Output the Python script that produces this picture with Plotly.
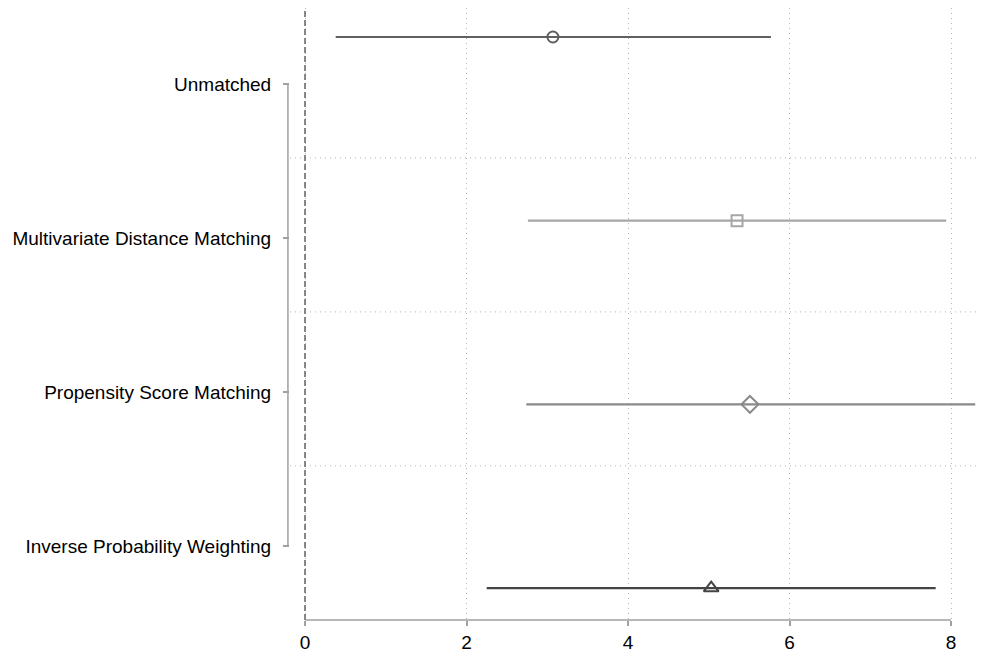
import plotly.graph_objects as go

# Estimates with 95% confidence intervals, one per estimator
methods = ["Unmatched", "Multivariate Distance Matching",
           "Propensity Score Matching", "Inverse Probability Weighting"]
estimate = [3.07, 5.35, 5.51, 5.03]
ci_low = [0.38, 2.76, 2.74, 2.25]
ci_high = [5.77, 7.94, 8.30, 7.81]

# Row positions of the markers and of the category labels
mark_pos = [1, 2, 3, 4]
label_pos = [1, 2, 3, 4]
separator_pos = [1.48, 2.48, 3.48]
x_ticks = [0, 2, 4, 6, 8]

colors = ["#606060", "#a6a6a6", "#8a8a8a", "#444444"]
symbols = ["circle-open", "square-open", "diamond-open", "triangle-up-open"]
sizes = [11, 11, 13, 13]

fig = go.Figure()

for i, m in enumerate(methods):
    fig.add_trace(go.Scatter(
        x=[ci_low[i], ci_high[i]], y=[mark_pos[i], mark_pos[i]],
        mode="lines", line=dict(color=colors[i], width=2.2),
        showlegend=False, hoverinfo="skip"))
    fig.add_trace(go.Scatter(
        x=[estimate[i]], y=[mark_pos[i]], mode="markers", name=m,
        marker=dict(symbol=symbols[i], size=sizes[i], color=colors[i],
                    line=dict(width=2, color=colors[i])),
        showlegend=False))

# invisible trace to carry the label axis
fig.add_trace(go.Scatter(x=[None], y=[None], yaxis="y2", showlegend=False))

shapes = []
# reference line at zero
shapes.append(dict(type="line", xref="x", yref="paper", x0=0, x1=0, y0=0, y1=1,
                   line=dict(color="#7a7a7a", width=1.8, dash="6px,3px"), layer="above"))
# group separators
for s in separator_pos:
    shapes.append(dict(type="line", xref="paper", yref="y2", x0=0, x1=1, y0=s, y1=s,
                       line=dict(color="#b4b4b4", width=1, dash="1px,4px"), layer="below"))
# category axis spine
shapes.append(dict(type="line", xref="paper", yref="y2", x0=-0.003, x1=-0.003,
                   y0=label_pos[0], y1=label_pos[-1],
                   line=dict(color="#a0a0a0", width=1.5)))
# value axis spine
shapes.append(dict(type="line", xref="x", yref="paper", x0=x_ticks[0], x1=x_ticks[-1],
                   y0=0, y1=0, line=dict(color="#a0a0a0", width=1.5)))

fig.update_layout(
    width=984, height=657,
    margin=dict(l=290, r=4, t=8, b=37),
    plot_bgcolor="white", paper_bgcolor="white",
    font=dict(family="Liberation Sans, Arial, Helvetica, sans-serif", size=18, color="#000000"),
    shapes=shapes,
    xaxis=dict(range=[-0.186, 8.359], tickvals=x_ticks, ticks="outside", ticklen=5,
               tickcolor="#a0a0a0", tickwidth=1.5, showline=False, zeroline=False,
               showgrid=True, gridcolor="#b4b4b4", griddash="1px,4px", gridwidth=1,
               tickfont=dict(size=19)),
    yaxis=dict(range=[4.174, 0.842], showticklabels=False, ticks="", showgrid=False,
               zeroline=False, showline=False),
    yaxis2=dict(range=[4.4805, 0.5065], overlaying="y", side="left",
                tickvals=label_pos, ticktext=methods, ticks="outside", ticklen=6,
                tickcolor="#a0a0a0", tickwidth=1.5, showgrid=False, zeroline=False,
                showline=False, ticklabelstandoff=8, tickfont=dict(size=19)),
)

fig.write_html("out.html")
